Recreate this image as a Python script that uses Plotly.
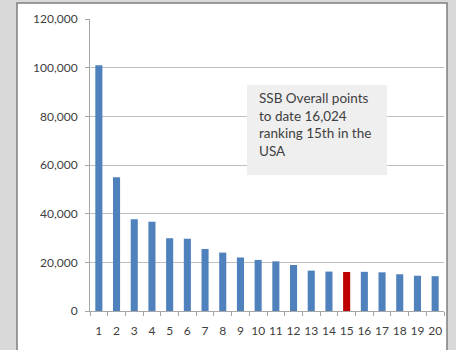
import plotly.graph_objects as go

categories = [str(i) for i in range(1, 21)]
points = [101000, 55000, 37700, 36700, 29900, 29700, 25500, 24000, 22000, 21000,
          20400, 18900, 16600, 16200, 16024, 16100, 15900, 15100, 14500, 14300]
highlight_rank = "15"
y_tickvals = [0, 20000, 40000, 60000, 80000, 100000, 120000]
y_ticktext = ["0", "20,000", "40,000", "60,000", "80,000", "100,000", "120,000"]
note_text = "SSB Overall points<br>to date 16,024<br>ranking 15th in the<br>USA"

colors = ["#C00000" if c == highlight_rank else "#4F81BD" for c in categories]

W, H = 456, 350
L, R, T, B = 90, 12, 19, 39
pw, ph = W - L - R, H - T - B

def px(x):
    return (x - L) / pw

def py(y):
    return (H - B - y) / ph

fig = go.Figure(go.Bar(x=categories, y=points, marker=dict(color=colors, line=dict(width=0)),
                       hoverinfo="x+y"))

fig.update_layout(
    width=W, height=H,
    margin=dict(l=L, r=R, t=T, b=B, pad=0),
    paper_bgcolor="#d9d9d9",
    plot_bgcolor="white",
    bargap=0.6,
    showlegend=False,
    font=dict(family="Lato, Carlito, 'Open Sans', sans-serif", size=11, color="#595959"),
    xaxis=dict(type="category", showgrid=False, showline=True, linecolor="#a6a6a6", linewidth=1,
               ticks="outside", tickson="boundaries", ticklen=4, tickcolor="#a6a6a6",
               tickangle=0, ticklabelstandoff=9,
               tickfont=dict(size=12, color="#404040"), fixedrange=True),
    yaxis=dict(range=[0, 120000], tickvals=y_tickvals, ticktext=y_ticktext,
               showgrid=True, gridcolor="#bfbfbf", gridwidth=1, zeroline=False,
               showline=True, linecolor="#a6a6a6", linewidth=1,
               ticks="outside", ticklen=4, tickcolor="#a6a6a6", ticklabelstandoff=5,
               tickfont=dict(size=12, color="#404040"), fixedrange=True),
    shapes=[
        dict(type="rect", xref="paper", yref="paper", layer="below",
             x0=px(17), x1=px(447), y0=py(352), y1=py(3),
             fillcolor="white", line=dict(color="#7f7f7f", width=1.5)),
        dict(type="rect", xref="paper", yref="paper", layer="above",
             x0=px(247), x1=px(387), y0=py(175), y1=py(85),
             fillcolor="#efefef", line=dict(width=0)),
    ],
    annotations=[
        dict(xref="paper", yref="paper", x=px(257), y=py(88), xanchor="left", yanchor="top",
             text=note_text, showarrow=False, align="left",
             font=dict(size=13.5, color="#404040")),
    ],
)

fig.write_html("out.html", config={"displayModeBar": False})
